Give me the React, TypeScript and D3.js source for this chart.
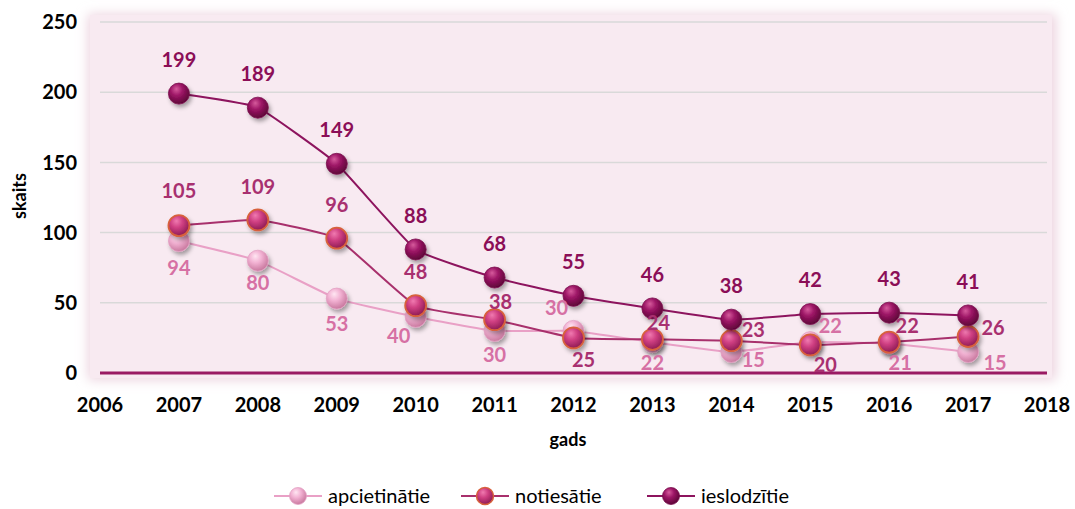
import React, { useEffect, useRef } from 'react';
import * as d3 from 'd3';

// chart data
const years = [2007, 2008, 2009, 2010, 2011, 2012, 2013, 2014, 2015, 2016, 2017];
const apcietinatie = [94, 80, 53, 40, 30, 30, 22, 15, 22, 21, 15];
const notiesatie = [105, 109, 96, 48, 38, 25, 24, 23, 20, 22, 26];
const ieslodzitie = [199, 189, 149, 88, 68, 55, 46, 38, 42, 43, 41];
const yTicks = [0, 50, 100, 150, 200, 250];
const xTicks = [2006, 2007, 2008, 2009, 2010, 2011, 2012, 2013, 2014, 2015, 2016, 2017, 2018];
const seriesNames = ['apcietinātie', 'notiesātie', 'ieslodzītie'];

// label offsets (px) from each point, per series
const offsApc: [number, number][] = [[0, 27], [0, 22], [0, 25], [-17, 19], [0, 24], [-17, -23], [0, 21], [22, 8], [20, -16], [11, 19], [27, 11]];
const offsNot: [number, number][] = [[0, -35], [0, -33], [0, -33], [0, -34], [6, -18], [10, 22], [6, -17], [22, -11], [15, 20], [18, -16], [25, -9]];
const offsIes: [number, number][] = years.map(() => [0, -34]);

const FONT = 'Lato, "Open Sans", sans-serif';

function App() {
  const ref = useRef<SVGSVGElement | null>(null);

  useEffect(() => {
    const svg = d3.select(ref.current);
    svg.selectAll('*').remove();

    const left = 100, right = 1047, top = 22, bottom = 373;
    const x = d3.scaleLinear().domain([2006, 2018]).range([left, right]);
    const y = d3.scaleLinear().domain([0, 250]).range([bottom, top]);

    const defs = svg.append('defs');
    const glow = defs.append('filter').attr('id', 'glow').attr('x', '-5%').attr('y', '-10%').attr('width', '110%').attr('height', '120%');
    glow.append('feGaussianBlur').attr('stdDeviation', 6);
    const shadow = defs.append('filter').attr('id', 'shadow').attr('x', '-60%').attr('y', '-60%').attr('width', '220%').attr('height', '220%');
    shadow.append('feDropShadow').attr('dx', 2).attr('dy', 3).attr('stdDeviation', 2).attr('flood-color', '#000').attr('flood-opacity', 0.35);

    const series = [
      { name: seriesNames[0], values: apcietinatie, offs: offsApc, line: '#e9a0c6', light: '#ffe6f2', mid: '#f2b2d3', dark: '#c9799f', stroke: '#e3a2c4', label: '#d670a4' },
      { name: seriesNames[1], values: notiesatie, offs: offsNot, line: '#a8306c', light: '#f07ab0', mid: '#cf3f82', dark: '#8f1c55', stroke: '#d8613c', label: '#a83070' },
      { name: seriesNames[2], values: ieslodzitie, offs: offsIes, line: '#8d145e', light: '#d65a9c', mid: '#9c1565', dark: '#5e0538', stroke: '#7a0d4d', label: '#8b0e57' },
    ];

    series.forEach((s, i) => {
      const g = defs.append('radialGradient').attr('id', `ball${i}`).attr('cx', '40%').attr('cy', '35%').attr('r', '65%').attr('fx', '38%').attr('fy', '28%');
      g.append('stop').attr('offset', '0%').attr('stop-color', s.light);
      g.append('stop').attr('offset', '45%').attr('stop-color', s.mid);
      g.append('stop').attr('offset', '100%').attr('stop-color', s.dark);
    });

    // plot background with soft edges
    svg.append('rect').attr('x', 88).attr('y', 14).attr('width', 968).attr('height', 366)
      .attr('fill', '#ecd3df').attr('filter', 'url(#glow)');
    svg.append('rect').attr('x', 90).attr('y', 15).attr('width', 962).attr('height', 363).attr('fill', '#f8eaf1');

    // grid
    svg.append('g').selectAll('line').data(yTicks.filter(t => t > 0)).enter().append('line')
      .attr('x1', left).attr('x2', right).attr('y1', d => y(d)).attr('y2', d => y(d))
      .attr('stroke', '#d9d9d9').attr('stroke-width', 1.5);

    // zero axis line
    svg.append('line').attr('x1', left).attr('x2', right).attr('y1', y(0)).attr('y2', y(0))
      .attr('stroke', '#9a1a63').attr('stroke-width', 3);

    // y tick labels
    svg.append('g').selectAll('text').data(yTicks).enter().append('text')
      .attr('x', 77).attr('y', d => y(d)).attr('dy', '0.36em').attr('text-anchor', 'end')
      .attr('font-family', FONT).attr('font-weight', 'bold').attr('font-size', 20).attr('fill', '#000')
      .text(d => d);

    // x tick labels
    svg.append('g').selectAll('text').data(xTicks).enter().append('text')
      .attr('x', d => x(d)).attr('y', 412).attr('text-anchor', 'middle')
      .attr('font-family', FONT).attr('font-weight', 'bold').attr('font-size', 20).attr('fill', '#000')
      .text(d => d);

    // axis titles
    svg.append('text').attr('x', 568).attr('y', 446).attr('text-anchor', 'middle')
      .attr('font-family', FONT).attr('font-weight', 'bold').attr('font-size', 18).text('gads');
    svg.append('text').attr('transform', 'translate(26,196) rotate(-90)').attr('text-anchor', 'middle')
      .attr('font-family', FONT).attr('font-weight', 'bold').attr('font-size', 18).text('skaits');

    const line = d3.line<number>()
      .x((_, i) => x(years[i]))
      .y(d => y(d))
      .curve(d3.curveCardinal.tension(0.65));

    series.forEach((s) => {
      svg.append('path').datum(s.values).attr('fill', 'none').attr('stroke', s.line).attr('stroke-width', 2).attr('d', line);
    });

    series.forEach((s, si) => {
      svg.append('g').selectAll('circle').data(s.values).enter().append('circle')
        .attr('cx', (_, i) => x(years[i])).attr('cy', d => y(d)).attr('r', 10.5)
        .attr('fill', `url(#ball${si})`).attr('stroke', s.stroke).attr('stroke-width', si === 1 ? 1.8 : 0.8)
        .attr('filter', 'url(#shadow)');
    });

    series.forEach((s) => {
      svg.append('g').selectAll('text').data(s.values).enter().append('text')
        .attr('x', (_, i) => x(years[i]) + s.offs[i][0])
        .attr('y', (d, i) => y(d) + s.offs[i][1])
        .attr('dy', '0.36em').attr('text-anchor', 'middle')
        .attr('font-family', FONT).attr('font-weight', 'bold').attr('font-size', 20).attr('fill', s.label)
        .text(d => d);
    });

    // legend
    const legendX = [274, 461, 647];
    series.forEach((s, si) => {
      const lg = svg.append('g').attr('transform', `translate(${legendX[si]},496)`);
      lg.append('line').attr('x1', 0).attr('x2', 48).attr('stroke', s.line).attr('stroke-width', 2);
      lg.append('circle').attr('cx', 24).attr('r', 8.5).attr('fill', `url(#ball${si})`)
        .attr('stroke', s.stroke).attr('stroke-width', si === 1 ? 1.5 : 0.8);
      lg.append('text').attr('x', 54).attr('dy', '0.35em')
        .attr('font-family', FONT).attr('font-size', 20).attr('fill', '#000').text(s.name);
    });
  }, []);

  return (
    <div style={{ position: 'absolute', left: 0, top: 0 }}>
      <svg ref={ref} width={1075} height={509} style={{ display: 'block', background: '#fff' }} />
    </div>
  );
}

export default App;
